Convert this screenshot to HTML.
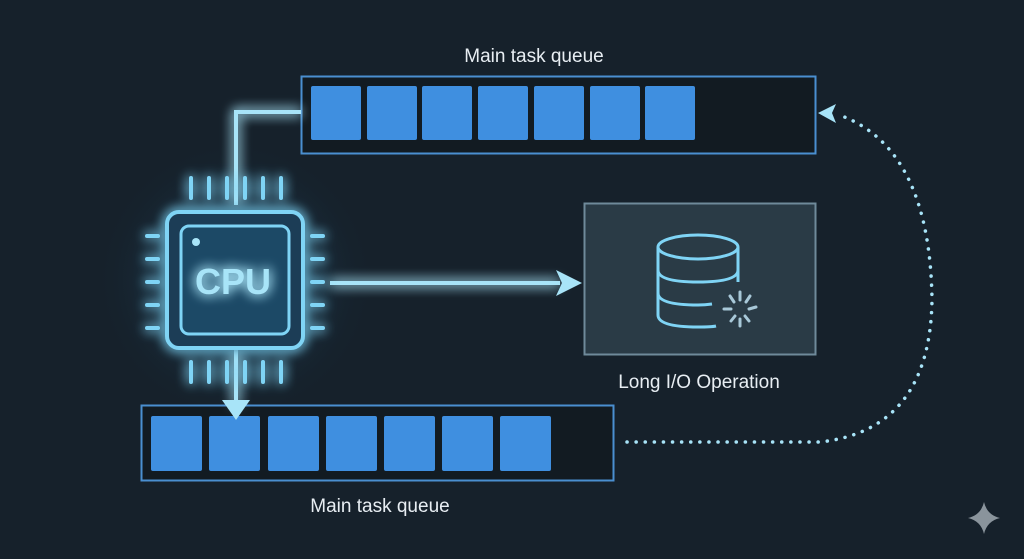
<!DOCTYPE html>
<html><head><style>
html,body{margin:0;padding:0;background:#16212b;}
body{width:1024px;height:559px;overflow:hidden;position:relative;font-family:"Liberation Sans",sans-serif;}
svg{position:absolute;left:0;top:0}
</style></head><body>
<svg width="1024" height="559" viewBox="0 0 1024 559">
<defs>
<filter id="g" x="-50%" y="-50%" width="200%" height="200%"><feGaussianBlur stdDeviation="6" result="b"/><feMerge><feMergeNode in="b"/><feMergeNode in="b"/><feMergeNode in="SourceGraphic"/></feMerge></filter>
<radialGradient id="rg" cx="50%" cy="50%" r="50%"><stop offset="0" stop-color="#2a78a8" stop-opacity="0.7"/><stop offset="1" stop-color="#16212b" stop-opacity="0"/></radialGradient>
</defs>
<rect width="1024" height="559" fill="#16212b"/>
<circle cx="235" cy="280" r="140" fill="url(#rg)"/>
<!-- top queue -->
<text x="534" y="62" fill="#e8eef3" font-size="19" text-anchor="middle">Main task queue</text>
<rect x="301.5" y="76.5" width="514" height="77" fill="#121b22" stroke="#4a8fd0" stroke-width="2"/>
<g fill="#3f8fe0">
<rect x="311" y="86" width="50" height="54" rx="2"/><rect x="367" y="86" width="50" height="54" rx="2"/><rect x="422" y="86" width="50" height="54" rx="2"/><rect x="478" y="86" width="50" height="54" rx="2"/><rect x="534" y="86" width="50" height="54" rx="2"/><rect x="590" y="86" width="50" height="54" rx="2"/><rect x="645" y="86" width="50" height="54" rx="2"/>
</g>
<!-- bottom queue -->
<rect x="141.5" y="405.5" width="472" height="75" fill="#121b22" stroke="#4a8fd0" stroke-width="2"/>
<g fill="#3f8fe0">
<rect x="151" y="416" width="51" height="55" rx="2"/><rect x="209" y="416" width="51" height="55" rx="2"/><rect x="268" y="416" width="51" height="55" rx="2"/><rect x="326" y="416" width="51" height="55" rx="2"/><rect x="384" y="416" width="51" height="55" rx="2"/><rect x="442" y="416" width="51" height="55" rx="2"/><rect x="500" y="416" width="51" height="55" rx="2"/>
</g>
<text x="380" y="512" fill="#e8eef3" font-size="19" text-anchor="middle">Main task queue</text>
<!-- connectors -->
<g filter="url(#g)" stroke="#a8e4f8" stroke-width="4" fill="none">
<polyline points="301,112 236,112 236,205"/>
<line x1="236" y1="350" x2="236" y2="405"/>
<line x1="330" y1="283" x2="560" y2="283"/>
</g>
<polygon points="222,400 250,400 236,420" fill="#a8e4f8"/>
<polygon points="556,270 582,283 556,296 562,283" fill="#a8e4f8"/>
<!-- CPU -->
<g filter="url(#g)" stroke="#7fd4f5" fill="none">
<rect x="167" y="212" width="136" height="136" rx="12" stroke-width="4" fill="#1a3d57"/>
<rect x="181" y="226" width="108" height="108" rx="8" stroke-width="3" fill="#1d4866"/>
<g stroke-width="4" stroke-linecap="round">
<line x1="191" y1="178" x2="191" y2="198"/><line x1="209" y1="178" x2="209" y2="198"/><line x1="227" y1="178" x2="227" y2="198"/><line x1="245" y1="178" x2="245" y2="198"/><line x1="263" y1="178" x2="263" y2="198"/><line x1="281" y1="178" x2="281" y2="198"/>
<line x1="191" y1="362" x2="191" y2="382"/><line x1="209" y1="362" x2="209" y2="382"/><line x1="227" y1="362" x2="227" y2="382"/><line x1="245" y1="362" x2="245" y2="382"/><line x1="263" y1="362" x2="263" y2="382"/><line x1="281" y1="362" x2="281" y2="382"/>
<line x1="147" y1="236" x2="158" y2="236"/><line x1="147" y1="259" x2="158" y2="259"/><line x1="147" y1="282" x2="158" y2="282"/><line x1="147" y1="305" x2="158" y2="305"/><line x1="147" y1="328" x2="158" y2="328"/>
<line x1="312" y1="236" x2="323" y2="236"/><line x1="312" y1="259" x2="323" y2="259"/><line x1="312" y1="282" x2="323" y2="282"/><line x1="312" y1="305" x2="323" y2="305"/><line x1="312" y1="328" x2="323" y2="328"/>
</g>
</g>
<circle cx="196" cy="242" r="4" fill="#a8e4f8"/>
<text x="233" y="294" fill="#a8e4f8" font-size="36" font-weight="bold" text-anchor="middle" filter="url(#g)">CPU</text>
<!-- IO box -->
<rect x="584.5" y="203.5" width="231" height="151" fill="#2a3b46" stroke="#6f8a9a" stroke-width="2"/>
<g stroke="#7fd4f5" stroke-width="3" fill="none">
<ellipse cx="698" cy="247" rx="40" ry="12"/>
<path d="M658 247 V315 Q658 327 698 327 Q712 327 716 326"/>
<path d="M738 247 V282"/>
<path d="M658 270 Q658 282 698 282 Q738 282 738 270"/>
<path d="M658 293 Q658 305 698 305 Q705 305 712 304"/>
</g>
<g stroke="#a8c8d8" stroke-width="3" stroke-linecap="round">
<line x1="740" y1="292" x2="740" y2="300"/><line x1="750" y1="296" x2="746" y2="302"/><line x1="756" y1="307" x2="749" y2="309"/><line x1="749" y1="321" x2="745" y2="316"/><line x1="740" y1="326" x2="740" y2="319"/><line x1="731" y1="321" x2="735" y2="316"/><line x1="724" y1="309" x2="731" y2="309"/><line x1="730" y1="296" x2="734" y2="302"/>
</g>
<text x="699" y="388" fill="#e8eef3" font-size="19" text-anchor="middle">Long I/O Operation</text>
<!-- dotted return -->
<path d="M627 442 L820 442 Q930 430 932 300 Q930 150 842 116" stroke="#a8e4f8" stroke-width="3.5" stroke-dasharray="0.1 9" stroke-linecap="round" fill="none"/>
<polygon points="818,113 836,104 832,113 836,123" fill="#a8e4f8"/>
<!-- sparkle -->
<path d="M984 502 Q987 515 1000 518 Q987 521 984 534 Q981 521 968 518 Q981 515 984 502Z" fill="#8a949c"/>
</svg>
</body></html>
